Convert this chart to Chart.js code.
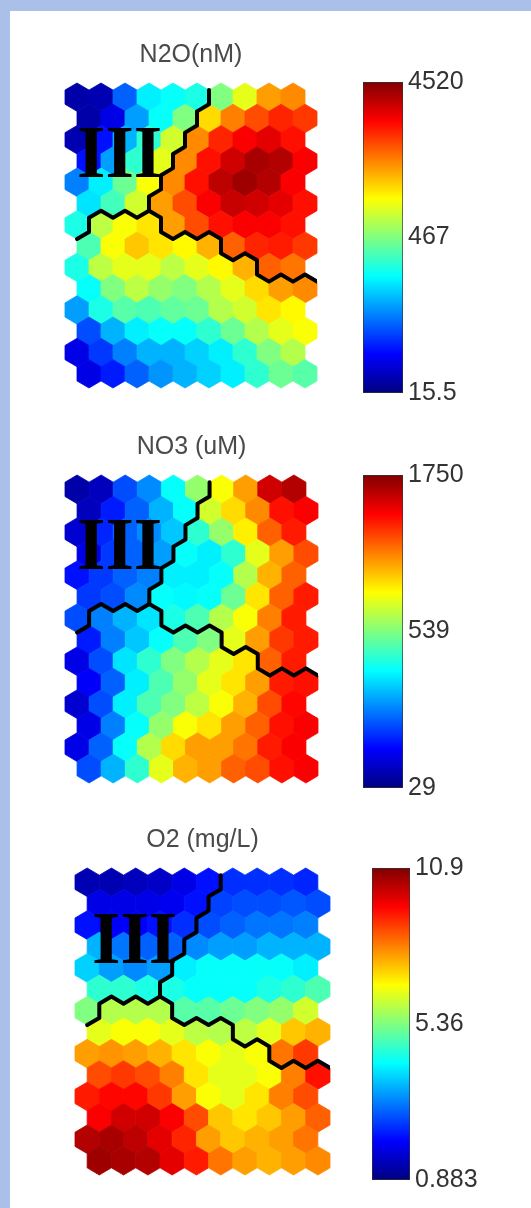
<!DOCTYPE html>
<html><head><meta charset="utf-8">
<script src="https://cdn.jsdelivr.net/npm/chart.js@4.4.1/dist/chart.umd.min.js"></script>
<style>
html,body{margin:0;padding:0;background:#fff;}
body{width:531px;height:1208px;position:relative;overflow:hidden;}
#frameTop{position:absolute;left:0;top:0;width:531px;height:11px;background:#aac0e8;}
#frameLeft{position:absolute;left:0;top:0;width:10px;height:1208px;background:#aac0e8;}
canvas{position:absolute;}
</style></head><body>
<div id="frameTop"></div><div id="frameLeft"></div>
<canvas id="map0"></canvas><canvas id="bar0"></canvas>
<canvas id="map1"></canvas><canvas id="bar1"></canvas>
<canvas id="map2"></canvas><canvas id="bar2"></canvas>
<script>
// ---------------- DATA ----------------
const titles = ['N2O(nM)', 'NO3 (uM)', 'O2 (mg/L)'];
const clusterLabel = 'III';

// colour-bar tick labels (bottom, middle, top)
const n2oTicks = ['15.5', '467', '4520'];
const no3Ticks = ['29', '539', '1750'];
const o2Ticks  = ['0.883', '5.36', '10.9'];
const tickPositions = [0, 0.5, 1];

// SOM component planes: 14 rows x 10 columns, values on the colour-bar scale (0..1)
const n2oValues = [
  [0.04,0.05,0.22,0.36,0.38,0.40,0.50,0.60,0.72,0.74],
  [0.04,0.10,0.28,0.38,0.50,0.66,0.75,0.80,0.84,0.82],
  [0.05,0.14,0.30,0.42,0.58,0.74,0.84,0.88,0.90,0.86],
  [0.14,0.28,0.42,0.60,0.74,0.86,0.92,0.96,0.95,0.88],
  [0.25,0.36,0.48,0.62,0.74,0.86,0.94,0.97,0.95,0.88],
  [0.35,0.44,0.58,0.72,0.80,0.88,0.93,0.92,0.90,0.86],
  [0.40,0.56,0.62,0.65,0.72,0.80,0.86,0.88,0.88,0.86],
  [0.45,0.62,0.68,0.65,0.63,0.70,0.78,0.84,0.85,0.82],
  [0.40,0.56,0.60,0.60,0.56,0.60,0.63,0.70,0.78,0.76],
  [0.38,0.50,0.56,0.52,0.50,0.55,0.60,0.66,0.72,0.74],
  [0.28,0.40,0.46,0.45,0.47,0.48,0.55,0.58,0.65,0.63],
  [0.20,0.30,0.36,0.38,0.38,0.42,0.48,0.55,0.60,0.62],
  [0.10,0.18,0.25,0.30,0.30,0.33,0.36,0.42,0.50,0.55],
  [0.10,0.15,0.22,0.27,0.30,0.33,0.36,0.42,0.48,0.46]
];
const no3Values = [
  [0.04,0.06,0.20,0.26,0.38,0.52,0.62,0.72,0.92,0.95],
  [0.06,0.15,0.22,0.30,0.38,0.58,0.66,0.74,0.86,0.88],
  [0.08,0.16,0.22,0.26,0.32,0.42,0.52,0.64,0.78,0.85],
  [0.10,0.18,0.22,0.28,0.38,0.36,0.42,0.60,0.72,0.80],
  [0.14,0.18,0.22,0.25,0.36,0.36,0.38,0.55,0.70,0.78],
  [0.18,0.20,0.26,0.38,0.37,0.38,0.48,0.65,0.78,0.85],
  [0.20,0.25,0.30,0.35,0.40,0.45,0.55,0.62,0.75,0.85],
  [0.15,0.25,0.32,0.38,0.45,0.50,0.60,0.72,0.82,0.85],
  [0.10,0.20,0.35,0.42,0.50,0.55,0.60,0.65,0.78,0.85],
  [0.12,0.22,0.36,0.45,0.52,0.60,0.65,0.72,0.85,0.86],
  [0.08,0.20,0.36,0.45,0.50,0.56,0.62,0.70,0.80,0.87],
  [0.10,0.25,0.38,0.52,0.62,0.65,0.72,0.78,0.86,0.88],
  [0.10,0.22,0.38,0.55,0.66,0.72,0.72,0.76,0.85,0.88],
  [0.20,0.30,0.42,0.60,0.70,0.72,0.78,0.80,0.86,0.88]
];
const o2Values = [
  [0.05,0.05,0.06,0.07,0.10,0.14,0.17,0.17,0.17,0.16],
  [0.10,0.10,0.10,0.11,0.14,0.19,0.20,0.20,0.21,0.20],
  [0.14,0.12,0.12,0.14,0.17,0.20,0.22,0.24,0.24,0.25],
  [0.30,0.24,0.22,0.22,0.26,0.28,0.28,0.30,0.30,0.30],
  [0.33,0.28,0.26,0.28,0.36,0.38,0.38,0.38,0.38,0.36],
  [0.42,0.42,0.40,0.40,0.38,0.38,0.38,0.40,0.42,0.45],
  [0.50,0.55,0.55,0.55,0.46,0.46,0.48,0.50,0.52,0.58],
  [0.60,0.62,0.62,0.60,0.56,0.55,0.56,0.60,0.68,0.70],
  [0.72,0.73,0.72,0.70,0.65,0.62,0.60,0.62,0.76,0.82],
  [0.80,0.82,0.80,0.75,0.65,0.60,0.60,0.62,0.75,0.86],
  [0.85,0.87,0.87,0.82,0.72,0.62,0.60,0.65,0.75,0.80],
  [0.88,0.92,0.92,0.88,0.80,0.68,0.65,0.68,0.72,0.78],
  [0.95,0.96,0.94,0.90,0.84,0.72,0.68,0.70,0.72,0.76],
  [0.97,0.96,0.95,0.90,0.85,0.76,0.72,0.70,0.72,0.74]
];

// cluster borders, in map-lattice units (x: column, y: row)
const borderTop = [[5.5,-1/3],[5.5,1/3],[5,2/3],[5,4/3],[4.5,5/3],[4.5,7/3],[4,8/3],[4,10/3],[3.5,11/3],[3.5,13/3],[3,14/3],[3,16/3]];
const borderLeft = [[3,16/3],[2.5,17/3],[2,16/3],[1.5,17/3],[1,16/3],[0.5,17/3],[0.5,19/3],[0,20/3]];
const borderRight = [[3,16/3],[3.5,17/3],[3.5,19/3],[4,20/3],[4.5,19/3],[5,20/3],[5.5,19/3],[6,20/3],[6,22/3],[6.5,23/3],[7,22/3],[7.5,23/3],[7.5,25/3],[8,26/3],[8.5,25/3],[9,26/3],[9.5,25/3],[10,26/3]];

// ---------------- LAYOUT / STYLE ----------------
const panels = [
  {vals:n2oValues, ticks:n2oTicks, map:{l:65,t:83,w:252,h:305}, bar:{l:363,t:82,w:40,h:311}, lab:{x:0,y:3.75}},
  {vals:no3Values, ticks:no3Ticks, map:{l:65,t:475,w:253,h:308}, bar:{l:363,t:475,w:40,h:313}, lab:{x:0,y:3.72}},
  {vals:o2Values,  ticks:o2Ticks,  map:{l:75,t:868,w:255,h:307}, bar:{l:372,t:868,w:38,h:312}, lab:{x:0.2,y:3.75}}
];

Chart.defaults.font.family = '"Liberation Sans", Arial, sans-serif';

function clamp(v){return Math.max(0,Math.min(1,v));}
function jet(v){
  const r = clamp(1.5-Math.abs(4*v-3)), g = clamp(1.5-Math.abs(4*v-2)), b = clamp(1.5-Math.abs(4*v-1));
  return 'rgb('+Math.round(r*255)+','+Math.round(g*255)+','+Math.round(b*255)+')';
}

const hexPlugin = {
  id:'hexCells',
  beforeDatasetsDraw(chart){
    const meta = chart.getDatasetMeta(0);
    const xs = chart.scales.x, ys = chart.scales.y;
    const hw = Math.abs(xs.getPixelForValue(0.5)-xs.getPixelForValue(0));
    const R = Math.abs(ys.getPixelForValue(2/3)-ys.getPixelForValue(0));
    const ctx = chart.ctx;
    const data = chart.data.datasets[0].data;
    ctx.save();
    meta.data.forEach((el,i)=>{
      const cx = el.x, cy = el.y, col = jet(data[i].v);
      ctx.beginPath();
      ctx.moveTo(cx, cy-R);
      ctx.lineTo(cx+hw, cy-R/2);
      ctx.lineTo(cx+hw, cy+R/2);
      ctx.lineTo(cx, cy+R);
      ctx.lineTo(cx-hw, cy+R/2);
      ctx.lineTo(cx-hw, cy-R/2);
      ctx.closePath();
      ctx.fillStyle = col; ctx.fill();
      ctx.strokeStyle = col; ctx.lineWidth = 0.8; ctx.stroke();
    });
    ctx.restore();
  },
  afterDatasetsDraw(chart, args, opts){
    if(!opts || !opts.text) return;
    const ctx = chart.ctx;
    ctx.save();
    ctx.font = 'bold 73px "Liberation Serif", "Times New Roman", serif';
    ctx.fillStyle = '#000';
    ctx.textAlign = 'left';
    ctx.textBaseline = 'alphabetic';
    ctx.fillText(opts.text, chart.scales.x.getPixelForValue(opts.x), chart.scales.y.getPixelForValue(opts.y));
    ctx.restore();
  }
};

function place(cv, l, t, w, h){
  cv.width = w; cv.height = h;
  cv.style.left = l+'px'; cv.style.top = t+'px';
  cv.style.width = w+'px'; cv.style.height = h+'px';
}

function lineDs(path){
  return {type:'scatter', data:path.map(p=>({x:p[0], y:p[1]})), showLine:true, borderColor:'#000', borderWidth:4,
    pointRadius:0, pointHoverRadius:0, borderJoinStyle:'round', borderCapStyle:'round', fill:false, tension:0};
}

const jetStops = [[0,'rgb(0,0,128)'],[0.125,'rgb(0,0,255)'],[0.375,'rgb(0,255,255)'],[0.625,'rgb(255,255,0)'],[0.875,'rgb(255,0,0)'],[1,'rgb(128,0,0)']];

panels.forEach((p, k)=>{
  const cells = [];
  p.vals.forEach((row, r)=>row.forEach((v, c)=>cells.push({x:c+0.5*(r%2), y:r, v:v})));
  const mc = document.getElementById('map'+k);
  place(mc, p.map.l-10, p.map.t-53, p.map.w+20, p.map.h+63);
  new Chart(mc, {
    type:'scatter',
    data:{datasets:[
      {data:cells, pointRadius:0, pointHoverRadius:0, showLine:false},
      lineDs(borderTop), lineDs(borderLeft), lineDs(borderRight)
    ]},
    options:{
      responsive:false, animation:false, events:[],
      layout:{padding:{left:10,right:10,top:0,bottom:10}},
      plugins:{
        legend:{display:false}, tooltip:{enabled:false},
        title:{display:true, text:titles[k], color:'#4a4a4a', font:{size:25, weight:'normal', lineHeight:1.2}, padding:{top:10,bottom:13}},
        hexCells:{text:clusterLabel, x:p.lab.x, y:p.lab.y}
      },
      scales:{
        x:{type:'linear', min:-0.5, max:10, display:false},
        y:{type:'linear', min:-2/3, max:13+2/3, reverse:true, display:false}
      }
    },
    plugins:[hexPlugin]
  });

  const bc = document.getElementById('bar'+k);
  place(bc, p.bar.l, p.bar.t-20, p.bar.w+70, p.bar.h+40);
  new Chart(bc, {
    type:'bar',
    data:{labels:[''], datasets:[{
      data:[[0,1]],
      backgroundColor(c){
        const ch = c.chart; if(!ch.chartArea) return '#888';
        const ys = ch.scales.y;
        const g = ch.ctx.createLinearGradient(0, ys.getPixelForValue(0), 0, ys.getPixelForValue(1));
        jetStops.forEach(s=>g.addColorStop(s[0], s[1]));
        return g;
      },
      borderColor:'#333', borderWidth:1, borderSkipped:false, barPercentage:1, categoryPercentage:1
    }]},
    options:{
      responsive:false, animation:false, events:[],
      layout:{padding:{top:20,bottom:20,left:0,right:0}},
      plugins:{legend:{display:false}, tooltip:{enabled:false}},
      scales:{
        x:{display:false},
        y:{position:'right', min:0, max:1,
           grid:{display:false, drawTicks:false}, border:{display:false},
           afterBuildTicks(s){ s.ticks = tickPositions.map(v=>({value:v})); },
           afterFit(s){ s.width = 70; },
           ticks:{padding:5, color:'#333', font:{size:25}, callback:(v,i)=>p.ticks[i]}
        }
      }
    }
  });
});
</script>
</body></html>
